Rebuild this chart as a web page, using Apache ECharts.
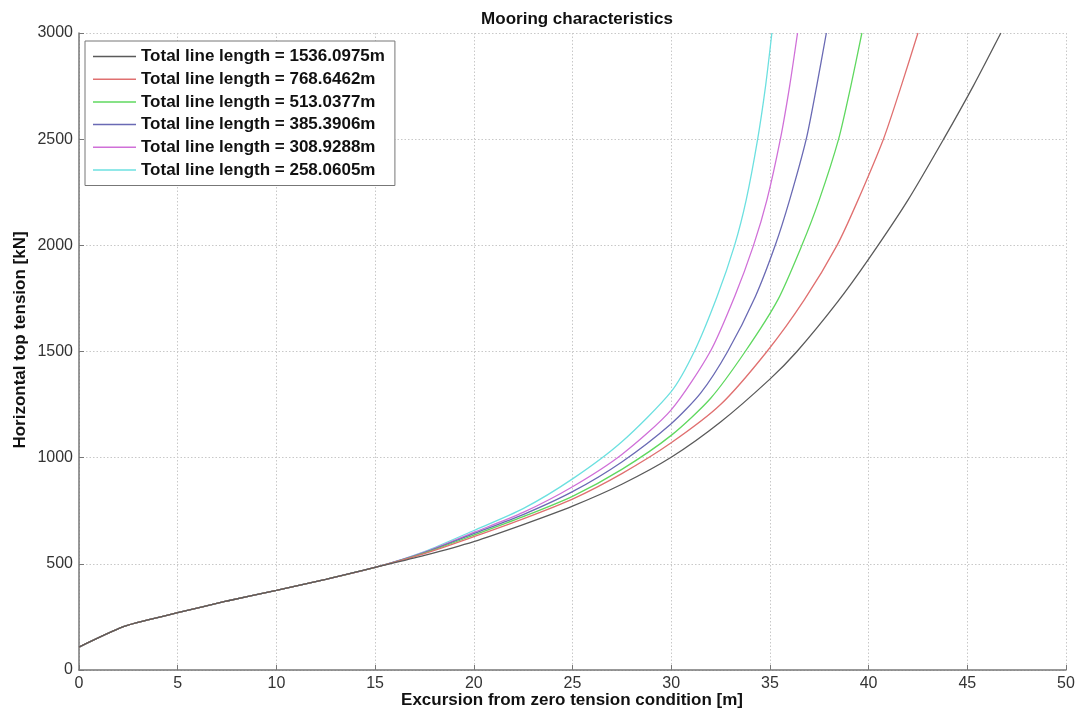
<!DOCTYPE html>
<html>
<head>
<meta charset="utf-8">
<script src="https://cdn.jsdelivr.net/npm/echarts@6/dist/echarts.min.js"></script>
<style>html,body{margin:0;padding:0;background:#fff;}#c{width:1080px;height:714px;}</style>
</head>
<body>
<div id="c"></div>
<script>
const seriesNames = [
  'Total line length = 1536.0975m',
  'Total line length = 768.6462m',
  'Total line length = 513.0377m',
  'Total line length = 385.3906m',
  'Total line length = 308.9288m',
  'Total line length = 258.0605m'
];
const seriesColors = ['#5a5a5a', '#e07070', '#5fd85f', '#6a6ab4', '#d070d8', '#6ce0e0'];

const common_x = [0, 2.25, 3.6, 5, 7.5, 10, 12.5, 15];
const common_y = [108, 204, 238, 270, 325, 375, 427, 483];

const x_1536 = [17.5, 20, 22.5, 25, 27.5, 30, 32.5, 35, 36.37, 38.4, 40, 42, 43.8, 45.3, 46.7];
const y_1536 = [540, 605, 685, 772, 875, 1002, 1168, 1370, 1500, 1730, 1935, 2214, 2500, 2750, 3000];

const x_768 = [17.5, 20, 22.5, 25, 27.5, 30, 32.5, 34.85, 36.74, 38.4, 39.4, 40.75, 41.65, 42.5];
const y_768 = [548, 628, 712, 805, 925, 1070, 1250, 1500, 1743, 2000, 2200, 2500, 2750, 3000];

const x_513 = [17.5, 20, 22.5, 25, 27.5, 30, 32, 33.75, 35.4, 36.62, 37.5, 38.48, 39.1, 39.66];
const y_513 = [551, 635, 722, 818, 945, 1105, 1280, 1500, 1743, 2000, 2214, 2500, 2750, 3000];

const x_385 = [17.5, 20, 22.5, 25, 27.5, 30, 31.5, 32.86, 34.26, 35.27, 36.0, 36.84, 37.37, 37.86];
const y_385 = [553, 642, 732, 840, 980, 1160, 1305, 1500, 1758, 2000, 2214, 2500, 2750, 3000];

const x_309 = [17.5, 20, 22.5, 25, 27.5, 30, 31.98, 33.21, 34.17, 34.85, 35.53, 36.0, 36.4];
const y_309 = [555, 648, 742, 863, 1015, 1225, 1500, 1758, 2000, 2214, 2500, 2750, 3000];

const x_258 = [17.5, 20, 22.5, 25, 27.5, 30, 31.17, 32.32, 33.21, 33.8, 34.38, 34.78, 35.1];
const y_258 = [558, 657, 760, 900, 1075, 1311, 1500, 1758, 2000, 2214, 2500, 2750, 3000];

const xTicks = [0, 5, 10, 15, 20, 25, 30, 35, 40, 45, 50];
const yTicks = [0, 500, 1000, 1500, 2000, 2500, 3000];

const seriesX = [x_1536, x_768, x_513, x_385, x_309, x_258];
const seriesY = [y_1536, y_768, y_513, y_385, y_309, y_258];

function pairs(xs, ys) {
  const out = common_x.map((x, i) => [x, common_y[i]]);
  xs.forEach((x, i) => out.push([x, ys[i]]));
  return out;
}

const FONT = '"Liberation Sans", Arial, sans-serif';
const chart = echarts.init(document.getElementById('c'), null, {renderer: 'canvas'});
chart.setOption({
  animation: false,
  backgroundColor: '#fff',
  title: {
    text: 'Mooring characteristics',
    left: 572, top: 6, textAlign: 'center',
    textStyle: {fontFamily: FONT, fontSize: 17, fontWeight: 'bold', color: '#111'}
  },
  legend: {
    orient: 'vertical', left: 85, top: 41,
    padding: [7, 10, 7, 8],
    icon: 'rect',
    itemWidth: 43, itemHeight: 1.5, itemGap: 5.7,
    backgroundColor: '#fff', borderColor: '#777', borderWidth: 1,
    textStyle: {fontFamily: FONT, fontSize: 17, fontWeight: 'bold', color: '#111', lineHeight: 17},
    data: seriesNames
  },
  graphic: [
    {type: 'text', x: 572, y: 700,
     style: {text: 'Excursion from zero tension condition [m]',
       textAlign: 'center', textVerticalAlign: 'middle',
       font: 'bold 17px "Liberation Sans", Arial, sans-serif', fill: '#111'}},
    {type: 'text', x: 20, y: 340, rotation: Math.PI / 2,
     style: {text: 'Horizontal top tension [kN]',
       textAlign: 'center', textVerticalAlign: 'middle',
       font: 'bold 17px "Liberation Sans", Arial, sans-serif', fill: '#111'}}
  ],
  grid: {left: 79, right: 14, top: 33, bottom: 44, containLabel: false},
  xAxis: {
    type: 'value', min: 0, max: 50, interval: 5,
    axisLine: {lineStyle: {color: '#777', width: 1.5}},
    axisTick: {inside: true, length: 5, lineStyle: {color: '#777'}},
    axisLabel: {fontFamily: FONT, fontSize: 16, color: '#333', margin: 6},
    splitLine: {show: true, lineStyle: {color: '#c8c8c8', type: [1.5, 2], width: 1}}
  },
  yAxis: {
    type: 'value', min: 0, max: 3000, interval: 500,
    axisLine: {show: true, lineStyle: {color: '#777', width: 1.5}},
    axisTick: {show: true, inside: true, length: 5, lineStyle: {color: '#777'}},
    axisLabel: {fontFamily: FONT, fontSize: 16, color: '#333', margin: 6,
      formatter: v => String(v)},
    splitLine: {show: true, lineStyle: {color: '#c8c8c8', type: [1.5, 2], width: 1}}
  },
  series: seriesNames.map((n, i) => ({
    name: n, type: 'line', symbol: 'none',
    smooth: 0.25,
    color: seriesColors[i],
    lineStyle: {width: 1.3, color: seriesColors[i]},
    data: pairs(seriesX[i], seriesY[i]),
    z: 10 - i
  }))
});
</script>
</body>
</html>
